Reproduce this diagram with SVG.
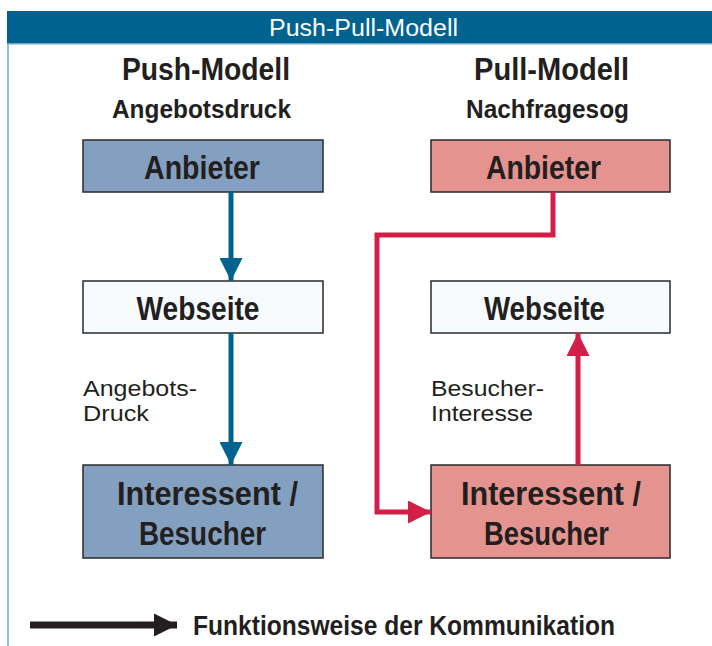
<svg xmlns="http://www.w3.org/2000/svg" width="712" height="646" viewBox="0 0 712 646">
<defs>
<style>
.t{font-family:"Liberation Sans Narrow","Liberation Sans",Arial,sans-serif;font-stretch:condensed;fill:#231f20}
.b{font-weight:bold}
.box{stroke:#2a2a2a;stroke-width:1.5}
.push{fill:#84a0c0}
.pull{fill:#e5938e}
.web{fill:#f8fbfe}
.blue{stroke:#00628f;stroke-width:5;fill:none}
.red{stroke:#d21f48;stroke-width:5;fill:none}
</style>
<marker id="ab" viewBox="0 0 10 10" refX="10" refY="5" markerWidth="4.6" markerHeight="4.6" markerUnits="strokeWidth" orient="auto"><path d="M0,0L10,5L0,10z" fill="#00628f"/></marker>
<marker id="ar" viewBox="0 0 10 10" refX="10" refY="5" markerWidth="4.6" markerHeight="4.6" markerUnits="strokeWidth" orient="auto"><path d="M0,0L10,5L0,10z" fill="#d21f48"/></marker>
<marker id="ak" viewBox="0 0 10 10" refX="10" refY="5" markerWidth="3.3" markerHeight="4.2" markerUnits="strokeWidth" orient="auto"><path d="M0,0L10,5L0,10z" fill="#231f20"/></marker>
</defs>
<rect width="712" height="646" fill="#fff"/>
<line x1="8" y1="44" x2="8" y2="646" stroke="#4a90c0" stroke-width="1.2"/>
<g id="title">
<rect x="7" y="11" width="705" height="33" fill="#00628f"/>
<rect x="7" y="43" width="705" height="1.5" fill="#6fa8c8"/>
<text class="t" x="363.5" y="36" text-anchor="middle" font-size="23" style="fill:#fff" textLength="189" lengthAdjust="spacingAndGlyphs">Push-Pull-Modell</text>
</g>
<g id="headers">
<text class="t b" x="206" y="80" text-anchor="middle" font-size="31" textLength="168" lengthAdjust="spacingAndGlyphs">Push-Modell</text>
<text class="t b" x="201.5" y="118" text-anchor="middle" font-size="25" textLength="179" lengthAdjust="spacingAndGlyphs">Angebotsdruck</text>
<text class="t b" x="551.5" y="80" text-anchor="middle" font-size="31" textLength="155" lengthAdjust="spacingAndGlyphs">Pull-Modell</text>
<text class="t b" x="547.5" y="118" text-anchor="middle" font-size="25" textLength="163" lengthAdjust="spacingAndGlyphs">Nachfragesog</text>
</g>
<g id="push-anbieter">
<rect class="box push" x="83" y="140" width="240" height="52"/>
<text class="t b" x="202" y="179" text-anchor="middle" font-size="33" textLength="116" lengthAdjust="spacingAndGlyphs">Anbieter</text>
</g>
<g id="push-webseite">
<rect class="box web" x="83" y="281" width="240" height="52"/>
<text class="t b" x="198" y="320" text-anchor="middle" font-size="33" textLength="123" lengthAdjust="spacingAndGlyphs">Webseite</text>
</g>
<g id="push-besucher">
<rect class="box push" x="83" y="465" width="240" height="93"/>
<text class="t b" x="207.5" y="505" text-anchor="middle" font-size="33" textLength="181" lengthAdjust="spacingAndGlyphs">Interessent /</text>
<text class="t b" x="202.5" y="545" text-anchor="middle" font-size="33" textLength="127" lengthAdjust="spacingAndGlyphs">Besucher</text>
</g>
<g id="pull-anbieter">
<rect class="box pull" x="431" y="140" width="239" height="52"/>
<text class="t b" x="543.5" y="179" text-anchor="middle" font-size="33" textLength="115" lengthAdjust="spacingAndGlyphs">Anbieter</text>
</g>
<g id="pull-webseite">
<rect class="box web" x="431" y="281" width="239" height="52"/>
<text class="t b" x="544.5" y="320" text-anchor="middle" font-size="33" textLength="121" lengthAdjust="spacingAndGlyphs">Webseite</text>
</g>
<g id="pull-besucher">
<rect class="box pull" x="431" y="465" width="239" height="93"/>
<text class="t b" x="551" y="505" text-anchor="middle" font-size="33" textLength="180" lengthAdjust="spacingAndGlyphs">Interessent /</text>
<text class="t b" x="546.5" y="545" text-anchor="middle" font-size="33" textLength="125" lengthAdjust="spacingAndGlyphs">Besucher</text>
</g>
<g id="labels">
<text class="t" x="83" y="396" font-size="22" textLength="114" lengthAdjust="spacingAndGlyphs">Angebots-</text>
<text class="t" x="83" y="421" font-size="22" textLength="66" lengthAdjust="spacingAndGlyphs">Druck</text>
<text class="t" x="431" y="396" font-size="22" textLength="113" lengthAdjust="spacingAndGlyphs">Besucher-</text>
<text class="t" x="431" y="421" font-size="22" textLength="102" lengthAdjust="spacingAndGlyphs">Interesse</text>
</g>
<g id="connectors">
<path class="blue" d="M231,192V281" marker-end="url(#ab)"/>
<path class="blue" d="M231,333V465" marker-end="url(#ab)"/>
<path class="red" d="M553,192V235H377V512H431" marker-end="url(#ar)" stroke-linejoin="miter"/>
<path class="red" d="M578,465V333" marker-end="url(#ar)"/>
</g>
<g id="legend">
<path d="M30,625H177" stroke="#231f20" stroke-width="7" marker-end="url(#ak)"/>
<text class="t b" x="193" y="635" font-size="28" textLength="422" lengthAdjust="spacingAndGlyphs">Funktionsweise der Kommunikation</text>
</g>
</svg>
